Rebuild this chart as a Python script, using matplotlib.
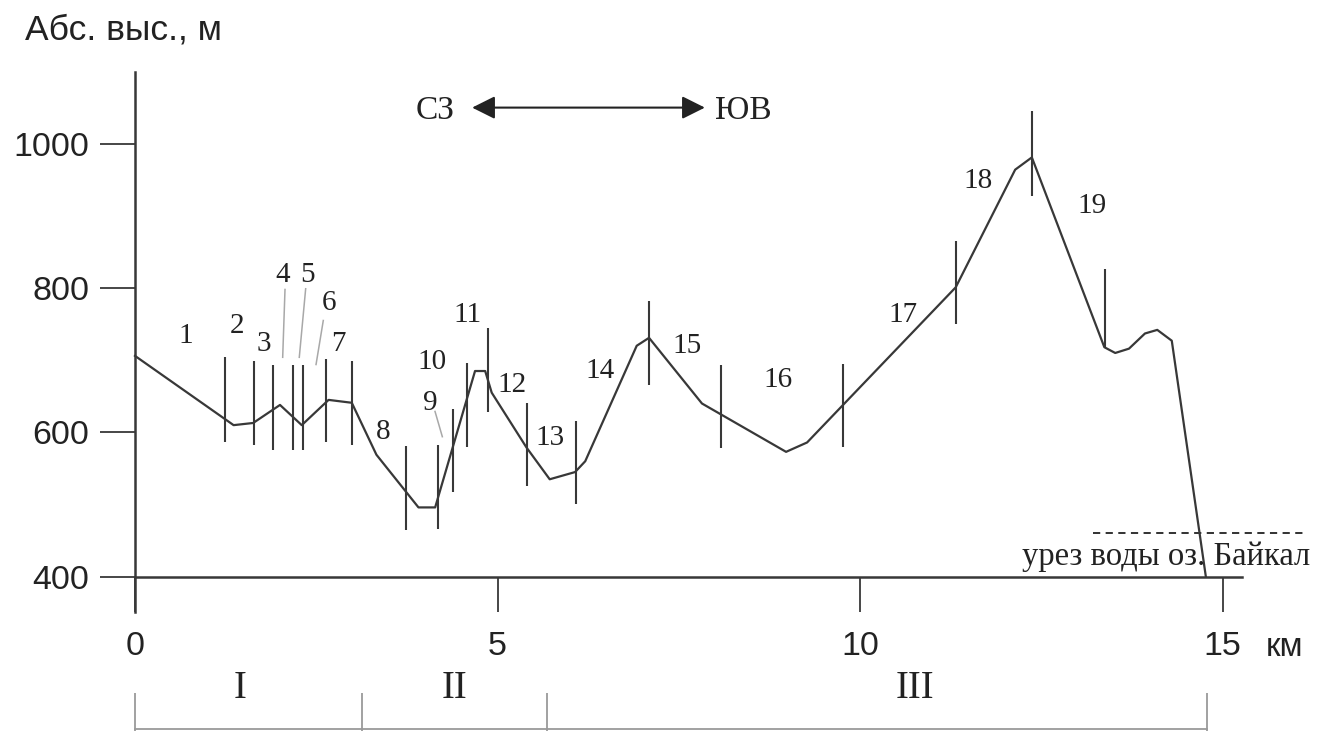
import matplotlib
matplotlib.use("Agg")
import matplotlib.pyplot as plt

# ---- data ----
profile_km = [0, 1.36, 1.63, 2.0, 2.30, 2.67, 2.99, 3.33, 3.91, 4.14, 4.69, 4.83, 4.92,
              5.40, 5.72, 6.07, 6.21, 6.92, 7.09, 7.82, 8.98, 9.27, 11.32, 12.14, 12.37,
              13.37, 13.52, 13.71, 13.93, 14.10, 14.30, 14.77]
profile_m = [706, 610, 613, 638, 610, 645, 641, 569, 496, 496, 685, 685, 655,
             579, 535, 545, 560, 720, 731, 640, 573, 586, 801, 964, 981,
             718, 710, 716, 737, 742, 727, 400]

bar_km = [1.24, 1.64, 1.90, 2.18, 2.32, 2.64, 2.99, 3.74, 4.18, 4.38, 4.58, 4.87,
          5.41, 6.08, 7.09, 8.08, 9.76, 11.32, 12.37, 13.38]
bar_top = [705, 699, 693, 693, 693, 701, 699, 581, 582, 633, 696, 745,
           641, 616, 782, 694, 695, 865, 1045, 826]
bar_bot = [587, 583, 576, 576, 576, 586, 583, 465, 466, 517, 580, 628,
           525, 501, 666, 578, 580, 750, 928, 718]

seg_labels = [str(i) for i in range(1, 20)]
seg_x = [0.70, 1.41, 1.78, 2.04, 2.38, 2.68, 2.80, 3.43, 4.07, 4.09, 4.58, 5.20,
         5.72, 6.41, 7.62, 8.87, 10.59, 11.63, 13.20]
seg_y = [734, 747, 722, 818, 818, 779, 723, 601, 640, 698, 763, 666,
         592, 685, 719, 673, 763, 948, 913]

leader_x0 = [2.069, 2.354, 2.597, 4.138]
leader_y0 = [798, 799, 755, 629]
leader_x1 = [2.037, 2.266, 2.497, 4.239]
leader_y1 = [704, 704, 694, 594]

x_ticks = [0, 5, 10, 15]
y_ticks = [400, 600, 800, 1000]

zone_names = ["I", "II", "III"]
zone_label_x = [1.45, 4.41, 10.76]
zone_bounds = [0, 3.13, 5.68, 14.79]

water_level = 460
water_x = [13.21, 16.15]

# ---- figure ----
SANS = ["Liberation Sans", "DejaVu Sans"]
SERIF = ["Liberation Serif", "DejaVu Serif"]
dark = "#383838"
txt = "#222222"

fig = plt.figure(figsize=(13.22, 7.31), dpi=100)
ax = fig.add_axes([0, 0, 1, 1])
ax.set_xlim(-1.862, 16.372)
ax.set_ylim(186.2, 1199.1)
ax.patch.set_alpha(0)

for s in ["top", "right"]:
    ax.spines[s].set_visible(False)
ax.spines["left"].set_position(("data", 0))
ax.spines["left"].set_bounds(351, 1100)
ax.spines["bottom"].set_position(("data", 400))
ax.spines["bottom"].set_bounds(0, 15.27)
for s in ["left", "bottom"]:
    ax.spines[s].set_color(dark)
    ax.spines[s].set_linewidth(1.8)

ax.set_xticks(x_ticks)
ax.set_xticklabels([str(v) for v in x_ticks], fontfamily=SANS)
ax.set_yticks(y_ticks)
ax.set_yticklabels([str(v) for v in y_ticks], fontfamily=SANS)
ax.tick_params(axis="x", direction="out", length=25, width=1.3, colors=dark,
               labelsize=24.5, pad=14, labelcolor=txt)
ax.tick_params(axis="y", direction="out", length=25, width=1.3, colors=dark,
               labelsize=24.5, pad=8, labelcolor=txt)

# profile
ax.plot(profile_km, profile_m, color=dark, lw=1.6, solid_joinstyle="round", zorder=3)

# boundary bars
ax.vlines(bar_km, bar_bot, bar_top, color=dark, lw=1.5, zorder=3)

# segment numbers
for t, x, y in zip(seg_labels, seg_x, seg_y):
    ax.text(x, y, t, fontfamily=SERIF, fontsize=21, ha="center", va="center", color=txt)

# leaders
for x0, y0, x1, y1 in zip(leader_x0, leader_y0, leader_x1, leader_y1):
    ax.plot([x0, x1], [y0, y1], color="#a8a8a8", lw=1.1)

# direction arrow
ax.annotate("", xy=(7.86, 1050), xytext=(4.65, 1050),
            arrowprops=dict(arrowstyle="<|-|>,head_length=1.0,head_width=0.5",
                            color=txt, lw=1.5, mutation_scale=14,
                            shrinkA=0, shrinkB=0))
ax.text(4.14, 1046, "СЗ", fontfamily=SERIF, fontsize=24, ha="center", va="center", color=txt)
ax.text(8.39, 1046, "ЮВ", fontfamily=SERIF, fontsize=24, ha="center", va="center", color=txt)

# water level
ax.plot(water_x, [water_level, water_level], color=txt, lw=1.3, ls=(0, (4, 3)))
ax.text(16.207, 428, "урез воды оз. Байкал", fontfamily=SERIF, fontsize=23.5,
        ha="right", va="center", color=txt)

# axis titles
ax.text(-1.517, 1157, "Абс. выс., м", fontfamily=SANS, fontsize=25.5, ha="left",
        va="center", color=txt)
ax.text(15.86, 400 - (647 - 576.7) / 0.7217, "км", fontfamily=SANS, fontsize=24,
        ha="center", va="center", color=txt)

# zones
for t, x in zip(zone_names, zone_label_x):
    ax.text(x, 400 - (688 - 576.7) / 0.7217, t, fontfamily=SERIF, fontsize=28,
            ha="center", va="center", color=txt)
ax.vlines(zone_bounds, 186.2, 239.5, color="#9a9a9a", lw=1.3)
ax.plot([zone_bounds[0], zone_bounds[-1]], [188.3, 188.3], color="#9a9a9a", lw=1.3)

fig.savefig("out.png", dpi=100)
